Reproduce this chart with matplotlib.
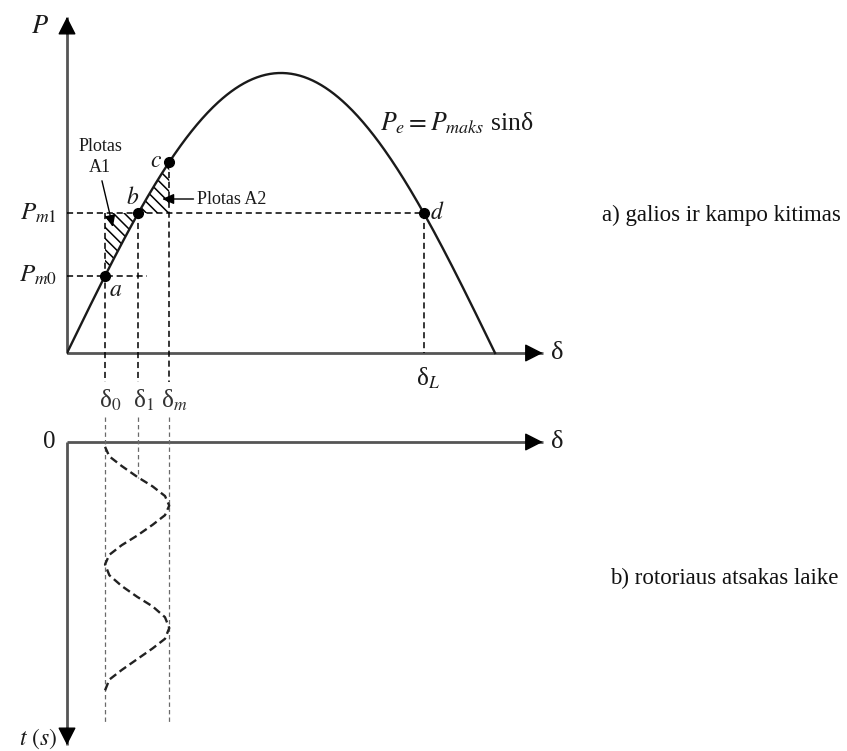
"""Power-angle curve with equal-area swing and the rotor angle response in time."""

import matplotlib.pyplot as plt
import numpy as np

plt.rcParams["font.family"] = ["Liberation Serif", "DejaVu Serif"]
plt.rcParams["mathtext.fontset"] = "stix"
plt.rcParams["hatch.linewidth"] = 1.1

# power-angle characteristic, P_e = P_maks * sin(delta), delta in degrees
P_MAKS = 1.0
point_labels = ["a", "b", "c", "d"]
point_delta = [16.0, 30.0, 43.0, 150.0]     # delta_0, delta_1, delta_m, delta_L
DELTA_0, DELTA_1, DELTA_M, DELTA_L = point_delta

# rotor swing between delta_0 and delta_m
swing_t = [0.04, 0.12, 0.20, 0.29, 0.37, 0.45, 0.53,
           0.61, 0.69, 0.78, 0.86, 0.94, 1.02,
           1.11, 1.20, 1.29, 1.37, 1.46, 1.55,
           1.64, 1.72, 1.81, 1.90, 1.98, 2.07]
swing_delta = [16.0, 17.8, 23.0, 29.5, 36.0, 41.2, 43.0,
               41.2, 36.0, 29.5, 23.0, 17.8, 16.0,
               17.8, 23.0, 29.5, 36.0, 41.2, 43.0,
               41.2, 36.0, 29.5, 23.0, 17.8, 16.0]

AXIS_C = "#555555"
INK = "#1a1a1a"


def pe(delta):
    return P_MAKS * np.sin(np.radians(delta))


def arrow_axis(ax, x0, y0, x1, y1, ang):
    ax.plot([x0, x1], [y0, y1], color=AXIS_C, lw=2.0, solid_capstyle="butt", clip_on=False)
    dx, dy = 12 * np.cos(np.radians(ang)), 12 * np.sin(np.radians(ang))
    ax.annotate("", xy=(x1, y1), xytext=(-dx, -dy), textcoords="offset points",
                arrowprops=dict(arrowstyle="-|>,head_length=0.55,head_width=0.28",
                                mutation_scale=20, color="black", lw=1.0,
                                shrinkA=0, shrinkB=0))


fig = plt.figure(figsize=(8.47, 7.51), dpi=100)
W, H = 847.0, 751.0
xscale = 2.378  # pixels per degree

# ---- a) power vs angle
ax = fig.add_axes([67 / W, (H - 395) / H, 200 * xscale / W, 378 / H])
ax.set_xlim(0, 200)
ax.set_ylim(-0.15, 1.2)
ax.axis("off")

arrow_axis(ax, 0, 0, 0, 1.2, 90)
arrow_axis(ax, 0, 0, 200, 0, 0)

d = np.linspace(0, 180, 400)
ax.plot(d, pe(d), color=INK, lw=1.7, zorder=4)

p_m0 = pe(DELTA_0)
p_m1 = pe(DELTA_1)

# accelerating (A1) and decelerating (A2) areas
da = np.linspace(DELTA_0, DELTA_1, 60)
ax.fill_between(da, pe(da), p_m1, facecolor="none", edgecolor="black",
                hatch="\\\\\\", lw=0, zorder=2)
dm = np.linspace(DELTA_1, DELTA_M, 60)
ax.fill_between(dm, p_m1, pe(dm), facecolor="none", edgecolor="black",
                hatch="\\\\\\", lw=0, zorder=2)

dash = dict(color="black", lw=1.1, ls=(0, (4, 2.5)), zorder=3)
ax.plot([0, DELTA_L], [p_m1, p_m1], **dash)
ax.plot([0, 33.6], [p_m0, p_m0], **dash)
ax.plot([DELTA_0, DELTA_0], [p_m1, -0.104], clip_on=False, **dash)
ax.plot([DELTA_1, DELTA_1], [p_m1, -0.104], clip_on=False, **dash)
ax.plot([DELTA_M, DELTA_M], [pe(DELTA_M), -0.104], clip_on=False, **dash)
ax.plot([DELTA_L, DELTA_L], [p_m1, 0], **dash)

ax.plot(point_delta, pe(np.array(point_delta)), "o", color="black", ms=7, zorder=5)
offsets = {"a": (11, -15), "b": (-6, 15), "c": (-13, 1), "d": (14, 0)}
for lab, dv in zip(point_labels, point_delta):
    ax.annotate(f"${lab}$", (dv, pe(dv)), xytext=offsets[lab], textcoords="offset pixels",
                ha="center", va="center", fontsize=17, color=INK)

ax.text(-11.4, 1.165, "$P$", fontsize=19, ha="center", va="center", color=INK)
ax.text(-4.2, p_m1, "$P_{m1}$", fontsize=18, ha="right", va="center", color=INK)
ax.text(-4.2, p_m0, "$P_{m0}$", fontsize=18, ha="right", va="center", color=INK)
ax.text(131.6, 0.82, "$P_e = P_{maks}$ sinδ", fontsize=18.5, ha="left", va="center", color=INK)
ax.text(203.5, 0.0, "δ", fontsize=19, ha="left", va="center", color=INK)

for dv, sub in [(DELTA_0, "0"), (DELTA_1, "1"), (DELTA_M, "m")]:
    s = f"δ$_{sub}$" if sub != "m" else "δ$_{m}$"
    ax.text(dv + 2.0, -0.168, s, fontsize=18, ha="center", va="center", color="#333333")
ax.text(DELTA_L + 2.0, -0.09, "δ$_{L}$", fontsize=18, ha="center", va="center", color=INK)

ax.text(13.9, 0.70, "Plotas\nA1", fontsize=13, ha="center", va="center",
        linespacing=1.25, color=INK)
ax.annotate("", xy=(19.3, 0.45), xytext=(14.7, 0.615),
            arrowprops=dict(arrowstyle="-|>,head_length=0.5,head_width=0.22",
                            mutation_scale=14, color="black", lw=1.0, shrinkA=0, shrinkB=0))
ax.text(54.7, 0.55, "Plotas A2", fontsize=13, ha="left", va="center", color=INK)
ax.annotate("", xy=(40.0, 0.55), xytext=(53.2, 0.55),
            arrowprops=dict(arrowstyle="-|>,head_length=0.5,head_width=0.22",
                            mutation_scale=14, color="black", lw=1.0, shrinkA=0, shrinkB=0))

# ---- b) rotor angle in time
bx = fig.add_axes([67 / W, (H - 745) / H, 200 * xscale / W, 339 / H])
bx.set_xlim(0, 200)
bx.set_ylim(2.525, -0.3)
bx.axis("off")

arrow_axis(bx, 0, 0, 200, 0, 0)
arrow_axis(bx, 0, 0, 0, 2.525, -90)

t_cross = float(np.interp(DELTA_1, swing_delta[:7], swing_t[:7]))
guide = dict(color="#6a6a6a", lw=0.9, ls=(0, (3.5, 2.5)), zorder=2)
bx.plot([DELTA_0, DELTA_0], [-0.21, 2.34], clip_on=False, **guide)
bx.plot([DELTA_M, DELTA_M], [-0.21, 2.34], clip_on=False, **guide)
bx.plot([DELTA_1, DELTA_1], [-0.21, t_cross], clip_on=False, **guide)

bx.plot(swing_delta, swing_t, color="#222222", lw=1.7, ls=(0, (3.4, 1.8)), zorder=3)

bx.text(-7.6, 0.0, "0", fontsize=18, ha="center", va="center", color=INK)
bx.text(203.5, 0.0, "δ", fontsize=19, ha="left", va="center", color=INK)
bx.text(-4.2, 2.47, "$t$ $(s)$", fontsize=17, ha="right", va="center", color=INK)

fig.text(602 / W, (H - 215) / H, "a) galios ir kampo kitimas", fontsize=16.5,
         ha="left", va="center", color="#111111")
fig.text(610 / W, (H - 578) / H, "b) rotoriaus atsakas laike", fontsize=16.5,
         ha="left", va="center", color="#111111")

fig.savefig("out.png", dpi=100)
